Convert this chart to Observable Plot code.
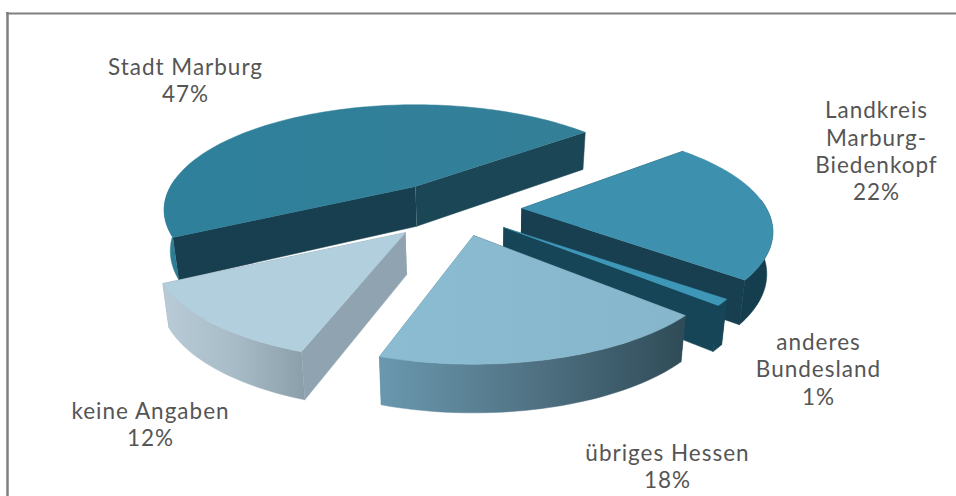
<!DOCTYPE html>
<html>
<head>
<meta charset="utf-8">
<style>
  html, body { margin: 0; padding: 0; background: #fff; }
  svg { display: block; }
  svg text { letter-spacing: 1px; }
</style>
<script src="https://cdn.jsdelivr.net/npm/d3@7"></script>
<script src="https://cdn.jsdelivr.net/npm/@observablehq/plot@0.6"></script>
</head>
<body>
<script>
// Herkunft der Befragten, share of each group in percent
const categories = ["Landkreis\nMarburg-\nBiedenkopf", "anderes\nBundesland", "übriges Hessen", "keine Angaben", "Stadt Marburg"];
const shares = [22, 1, 18, 12, 47];

// Layout of the exploded pie, kept apart from the data
const width = 956, height = 496;
const startAngle = -41;                 // degrees, clockwise from the right-hand side
const tilt = {X: 245, Y: 100, k: 0.223}; // perspective of the pie plane
const apexes = [[521, 208], [503, 227], [473, 235], [405, 232], [415, 186]];
const turns = [0, 0, 1, 3, 3];           // small rotation of each exploded slice; spans stay as given
const labelAt = [[876, 150], [818, 368], [667, 465], [150, 423], [185, 79]];
const paint = [
  {top: "#3d90ae", outer: "#143d4d", cutA: "#173f4f", cutB: "#173f4f"},
  {top: "#3f97b8", outer: "#164557", cutA: "#164557", cutB: "#164557"},
  {top: "url(#topHessen)", outer: "url(#wallHessen)", cutA: "#34505c", cutB: "#5f8fa5"},
  {top: "#b2cfdd", outer: "url(#wallKeine)", cutA: "#8fa4b0", cutB: "#8fa4b0"},
  {top: "url(#topMarburg)", outer: "url(#wallMarburg)", cutA: "#173f4f", cutB: "#1b4656"}
];

// Perspective projection of a rim point of a slice whose tip sits at `apex`
function rim([ax, ay], deg) {
  const t = deg * Math.PI / 180, u = Math.cos(t), v = Math.sin(t), w = 1 - tilt.k * v;
  return {x: ax + tilt.X * u / w, y: ay + tilt.Y * v / w};
}
// Lower edge of the pie: deeper towards the viewer, converging slightly towards the middle
function drop({x, y}) {
  return {x: x + (470 - x) * 0.02, y: y + 40 + (y - 190) * 0.05};
}
const face = (pts, fill) => Plot.line(pts, {x: "x", y: "y", fill, stroke: fill, strokeWidth: 0.5, curve: "linear"});

// One slice from back to front: cut faces, outer wall (front-facing part only), top face
let angle = startAngle;
const slices = shares.map((share, i) => {
  const from = angle + turns[i], to = angle + share * 3.6 + turns[i];
  angle += share * 3.6;
  const tip = {x: apexes[i][0], y: apexes[i][1]};
  const steps = d3.range(from, to, 1.5).concat(to);
  const arc = steps.map((d) => rim(apexes[i], d));
  const front = steps.filter((d) => Math.sin(d * Math.PI / 180) > -0.1).map((d) => rim(apexes[i], d));
  const first = arc[0], last = arc[arc.length - 1];
  const wall = (a, b) => [a, b, drop(b), drop(a)];
  return [
    face(wall(tip, first), paint[i].cutA),
    face(wall(tip, last), paint[i].cutB),
    face([...front, ...front.map(drop).reverse()], paint[i].outer),
    face([tip, ...arc], paint[i].top)
  ];
});

const labels = categories.map((c, i) => ({x: labelAt[i][0], y: labelAt[i][1], text: `${c}\n${shares[i]}%`}));

const plot = Plot.plot({
  width, height,
  margin: 0,
  style: {background: "#fff", overflow: "hidden"},
  x: {domain: [0, width], range: [0, width], axis: null},
  y: {domain: [0, height], range: [0, height], axis: null},
  marks: [
    // Frame of the chart area, open at the bottom
    Plot.ruleY([13], {x1: 6, x2: width, stroke: "#808080", strokeWidth: 2}),
    Plot.ruleX([7], {y1: 12, y2: height, stroke: "#808080", strokeWidth: 2.5}),
    // Marburg, Landkreis, Bundesland, Hessen, keine Angaben: painted back to front
    ...[4, 0, 1, 2, 3].flatMap((i) => slices[i]),
    Plot.text(labels, {
      x: "x", y: "y", text: "text", textAnchor: "middle", lineHeight: 1.22,
      fontFamily: "Lato", fontSize: 22.5, fill: "#555555"
    })
  ]
});

// Shading used by the walls and the top faces
const defs = d3.select(plot).insert("defs", ":first-child");
function gradient(id, stops) {
  const g = defs.append("linearGradient").attr("id", id);
  stops.forEach(([o, c]) => g.append("stop").attr("offset", o).attr("stop-color", c));
}
gradient("wallHessen", [[0, "#6a98ae"], [0.45, "#537688"], [1, "#2f4b57"]]);
gradient("wallKeine", [[0, "#b8cbd6"], [0.5, "#a8bcc8"], [1, "#8a9faa"]]);
gradient("wallMarburg", [[0, "#2f8098"], [1, "#2c7a92"]]);
gradient("topHessen", [[0, "#8bbcd1"], [1, "#85b6cb"]]);
gradient("topMarburg", [[0, "#2e809b"], [1, "#347f98"]]);

document.body.appendChild(plot);
</script>
</body>
</html>
